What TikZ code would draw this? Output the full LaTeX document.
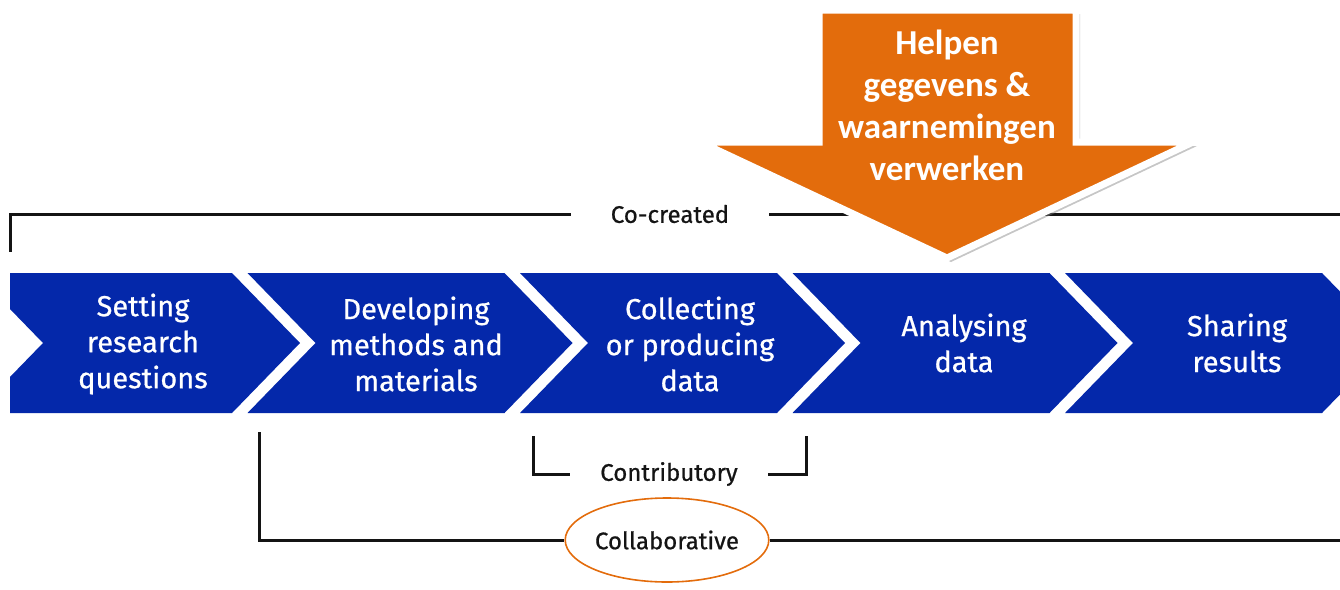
\documentclass[tikz,border=0pt]{standalone}
\usepackage{fontspec}
\setmainfont{Fira Sans}
\newfontfamily\stepfont{Fira Sans}[FakeBold=0.7]
\newfontfamily\calibri{Carlito}
\usepackage{tikz}
\usetikzlibrary{positioning, shapes.geometric, shadows}

\definecolor{stepblue}{RGB}{4,40,170}
\definecolor{helporange}{RGB}{227,108,12}
\definecolor{labelgray}{RGB}{20,20,20}

\begin{document}
\begin{tikzpicture}[
    x=1pt, y=-1pt,
    chevron/.style={fill=stepblue},
    steptext/.style={text=white, align=center, font=\stepfont\fontsize{29}{36}\selectfont},
    phase/.style={text=labelgray, inner sep=0pt, minimum width=198, font=\stepfont\fontsize{24}{28}\selectfont},
    bracket/.style={draw=labelgray, line width=3pt},
    helparrow/.style={fill=helporange, draw=white, line width=7pt,
        drop shadow={opacity=0.45, shadow xshift=4pt, shadow yshift=-4pt}},
    helptext/.style={text=white, align=center, font=\calibri\bfseries\fontsize{35}{42}\selectfont}
]
\useasboundingbox (0,0) rectangle (1340,589);

% Steps
\begin{scope}
\clip (10,0) rectangle (1340,589);
\foreach \i in {0,...,4} {
    \pgfmathsetmacro{\xl}{-25+272.5*\i}
    \fill[chevron] (\xl,273) -- ++(257,0) -- ++(68,70) -- ++(-68,70)
        -- ++(-257,0) -- ++(68,-70) -- cycle;
}
\end{scope}

\node[steptext] (setting) at (143,344) {Setting\\research\\questions};
\node[steptext] (developing) at (416,344) {Developing\\methods and\\materials};
\node[steptext] (collecting) at (690,344) {Collecting\\or producing\\data};
\node[steptext] (analysing) at (964,343) {Analysing\\data};
\node[steptext] (sharing) at (1237,343) {Sharing\\results};

% Participation levels
\node[phase] (cocreated) at (670,214) {Co-created};
\node[phase] (contributory) at (669,474) {Contributory};
\node[phase, ellipse, draw=helporange, line width=1.6pt, minimum width=192, minimum height=84] (collaborative) at (667,540) {Collaborative};

\coordinate (cocorner) at (10,252);
\coordinate (coend) at (1340,214);
\coordinate (contribleft) at (533,436);
\coordinate (contribright) at (806,436);
\coordinate (collabcorner) at (259,432);
\coordinate (collabend) at (1340,540);

\draw[bracket] (cocreated.west) -| (cocorner);
\draw[bracket] (cocreated.east) -- (coend);
\draw[bracket] (contributory.west) -| (contribleft);
\draw[bracket] (contributory.east) -| (contribright);
\draw[bracket] (collaborative.west) -| (collabcorner);
\draw[bracket] (collaborative.east) -- (collabend);

% Orange arrow
\draw[helparrow] (819,10) -- (1076,10) -- (1076,142) -- (1193,142)
    -- (947,258) -- (700,142) -- (819,142) -- cycle;
\node[helptext] (help) at (947,105) {Helpen\\gegevens \&\\waarnemingen\\verwerken};

\end{tikzpicture}
\end{document}
